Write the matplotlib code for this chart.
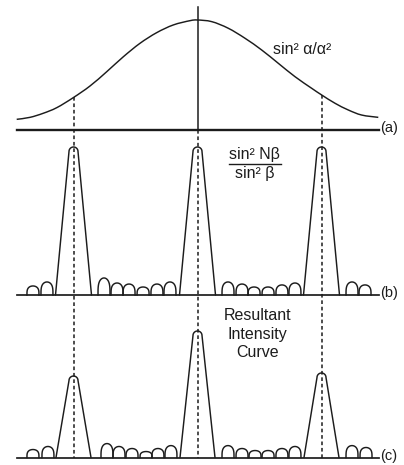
import numpy as np
import matplotlib
matplotlib.use("Agg")
import matplotlib.pyplot as plt
from matplotlib.lines import Line2D
from matplotlib.path import Path
from matplotlib.patches import PathPatch

# ---------------- data ----------------
orders = [-1, 0, 1]

# (a) single-slit envelope sin^2(alpha)/alpha^2  (x in order units, relative intensity)
env_x = [-1.458, -1.351, -1.244, -1.135, -1.002, -0.867, -0.732, -0.598, -0.464,
         -0.329, -0.195, -0.060, 0.000, 0.115, 0.248, 0.383, 0.518, 0.652,
         0.786, 0.921, 1.002, 1.109, 1.216, 1.324, 1.458]
env_y = [0.097, 0.115, 0.152, 0.203, 0.294, 0.400, 0.530, 0.666, 0.788,
         0.885, 0.955, 0.994, 1.000, 0.985, 0.925, 0.834, 0.727, 0.606,
         0.485, 0.379, 0.318, 0.243, 0.182, 0.136, 0.115]

# (b) interference term sin^2(N beta)/sin^2(beta)
b_peak_heights = [1.0, 1.0, 1.0]
b_hump_x = [-1.327, -1.214, -0.754, -0.649, -0.552, -0.439, -0.327, -0.222,
            0.246, 0.359, 0.456, 0.569, 0.681, 0.786, 1.246, 1.351]
b_hump_h = [0.061, 0.088, 0.115, 0.081, 0.074, 0.054, 0.074, 0.088,
            0.088, 0.074, 0.054, 0.054, 0.068, 0.081, 0.088, 0.068]

# (c) resultant intensity
c_peak_heights = [0.644, 1.0, 0.668]
c_hump_x = [-1.327, -1.206, -0.730, -0.633, -0.528, -0.415, -0.319, -0.214,
            0.246, 0.359, 0.464, 0.569, 0.681, 0.786, 1.246, 1.359]
c_hump_h = [0.063, 0.087, 0.110, 0.087, 0.071, 0.047, 0.071, 0.094,
            0.094, 0.071, 0.055, 0.055, 0.071, 0.087, 0.094, 0.079]

label_a = "sin² α/α²"
label_b_num = "sin² Nβ"
label_b_den = "sin² β"
label_c = "Resultant\nIntensity\nCurve"
panel_tags = ["(a)", "(b)", "(c)"]

# ---------------- layout / style ----------------
W, H = 404, 465
X0, DX = 197.5, 124.0          # pixel of order 0, pixels per order
base_a, scale_a = 335.0, 110.0
base_b, scale_b = 170.0, 148.0
base_c, scale_c = 7.5, 126.5
x_lo, x_hi = -1.452, 1.46
ink = "#1c1c1c"
lw = 1.05

plt.rcParams['font.family'] = ['Liberation Sans', 'DejaVu Sans']

fig = plt.figure(figsize=(W / 100, H / 100), dpi=100)
fig.patch.set_facecolor("white")
ax = fig.add_axes([0, 0, 1, 1])
ax.set_xlim(-X0 / DX, (W - X0) / DX)
ax.set_ylim(0, H)
ax.axis("off")

dash = dict(color=ink, lw=1.1, linestyle=(0, (2.4, 1.8)))


def smooth_path(xs, ys):
    """Catmull-Rom curve through the given points, as cubic Bezier segments."""
    P = np.column_stack([xs, ys]).astype(float)
    verts = [P[0]]
    codes = [Path.MOVETO]
    n = len(P)
    for i in range(n - 1):
        p0 = P[i - 1] if i > 0 else P[i]
        p1, p2 = P[i], P[i + 1]
        p3 = P[i + 2] if i + 2 < n else P[i + 1]
        c1 = p1 + (p2 - p0) / 6.0
        c2 = p2 - (p3 - p1) / 6.0
        verts += [c1, c2, p2]
        codes += [Path.CURVE4] * 3
    return Path(verts, codes)


def peak(ax, c, base, h, hw, rx, ry):
    top = base + h
    t = np.linspace(np.pi, 0, 30)
    xs = np.concatenate([[c - hw], c + rx * np.cos(t), [c + hw]])
    ys = np.concatenate([[base], top - ry + ry * np.sin(t), [base]])
    ax.plot(xs, ys, color=ink, lw=lw, solid_capstyle="round", solid_joinstyle="round")


def hump(ax, c, base, h, hw):
    t = np.linspace(np.pi, 0, 30)
    xs = c + hw * np.cos(t)
    ys = base + h * np.sin(t) ** 0.55
    ax.plot(xs, ys, color=ink, lw=lw)


# (a) envelope
ax.add_patch(PathPatch(smooth_path(env_x, base_a + scale_a * np.array(env_y)),
                       facecolor="none", edgecolor=ink, lw=lw))
ax.plot([x_lo, x_hi], [base_a, base_a], color=ink, lw=1.7)

# (b) and (c) baselines
ax.plot([x_lo, x_hi], [base_b, base_b], color=ink, lw=1.25)
ax.plot([x_lo, x_hi], [base_c, base_c], color=ink, lw=1.25)

# principal maxima
for o, hb, hc in zip(orders, b_peak_heights, c_peak_heights):
    peak(ax, o, base_b, hb * scale_b, 18 / DX, 4.5 / DX, 4.5)
    peak(ax, o, base_c, hc * scale_c, 17.5 / DX, 4.5 / DX, 4.5)

# subsidiary maxima
for xv, hv in zip(b_hump_x, b_hump_h):
    hump(ax, xv, base_b, hv * scale_b, 6 / DX)
for xv, hv in zip(c_hump_x, c_hump_h):
    hump(ax, xv, base_c, hv * scale_c, 6 / DX)

# vertical guide lines
env_at = np.interp(orders, env_x, env_y)
for o, e in zip(orders, env_at):
    if o == 0:
        ax.plot([0, 0], [H - 7, base_a], color=ink, lw=1.1)
        ax.plot([0, 0], [base_a, base_c], **dash)
    else:
        ax.plot([o, o], [base_a + scale_a * e, base_c], **dash)


def fx(px):
    return px / W


def fy(py):
    return 1 - py / H


# labels
fs = 11.5
fig.text(fx(273), fy(49), label_a, fontsize=fs, color=ink, ha="left", va="center")
fig.text(fx(254.5), fy(155), label_b_num, fontsize=fs, color=ink, ha="center", va="center")
fig.text(fx(255), fy(173.5), label_b_den, fontsize=fs, color=ink, ha="center", va="center")
fig.add_artist(Line2D([fx(229), fx(281)], [fy(164), fy(164)], transform=fig.transFigure,
                      color=ink, lw=1.0))
fig.text(fx(257.5), fy(334), label_c, fontsize=fs, color=ink, ha="center", va="center",
         linespacing=1.3)
for tag, py in zip(panel_tags, [128, 293, 455.5]):
    fig.text(fx(380), fy(py), tag, fontsize=10.5, color=ink, ha="left", va="center")

fig.savefig("out.png", dpi=100, facecolor="white")
